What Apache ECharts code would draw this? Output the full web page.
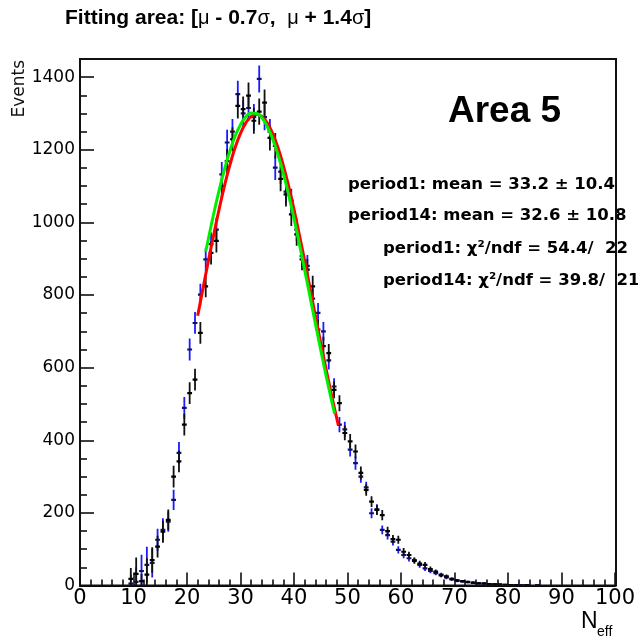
<!DOCTYPE html>
<html><head><meta charset="utf-8">
<script src="https://cdn.jsdelivr.net/npm/echarts@6/dist/echarts.min.js"></script>
<style>html,body{margin:0;padding:0;background:#fff}#c{width:638px;height:641px}</style>
</head><body><div id="c"></div>
<script>
// ---------------- DATA ----------------
const binCenters = [9.5,10.5,11.5,12.5,13.5,14.5,15.5,16.5,17.5,18.5,
 19.5,20.5,21.5,22.5,23.5,24.5,25.5,26.5,27.5,28.5,
 29.5,30.5,31.5,32.5,33.5,34.5,35.5,36.5,37.5,38.5,
 39.5,40.5,41.5,42.5,43.5,44.5,45.5,46.5,47.5,48.5,
 49.5,50.5,51.5,52.5,53.5,54.5,55.5,56.5,57.5,58.5,
 59.5,60.5,61.5,62.5,63.5,64.5,65.5,66.5,67.5,68.5,
 69.5,70.5,71.5,72.5,73.5,74.5,75.5,76.5,77.5,78.5,
 79.5,80.5,81.5,82.5,83.5,84.5,85.5];

const period1Counts = [18,32,12,30,70,107,148,181,300,342,
 443,530,567,696,824,916,949,1100,1169,1229,
 1321,1312,1349,1280,1305,1330,1233,1211,1120,1077,
 1022,967,898,870,824,705,659,640,539,502,
 420,397,369,310,263,231,208,194,150,128,
 126,93,84,68,60,57,45,38,28,25,
 18,14,12,9,8,6,5,4,3,3,
 2,1,1,0,1,0,0];
const period1Errors = [30,45,20,45,35,30,30,28,30,30,
 30,30,30,30,30,32,32,32,33,33,
 35,35,36,36,36,36,35,35,34,33,
 32,31,30,29,29,27,26,25,23,22,
 20,20,19,18,16,15,14,14,12,11,
 11,10,9,8,8,8,7,6,5,5,
 4,4,3,3,3,2,2,2,2,2,
 1,1,1,0,1,0,0];

const period14Counts = [5,10,40,57,62,126,153,176,236,365,
 489,650,723,801,898,940,980,1132,1220,1250,
 1353,1300,1315,1290,1395,1290,1250,1151,1140,1085,
 1060,980,907,880,790,751,700,620,548,443,
 430,374,337,300,270,199,210,153,139,121,
 98,84,75,70,57,47,40,34,30,22,
 17,13,11,10,7,6,6,4,3,2,
 2,1,1,1,1,0,1];
const period14Errors = [25,40,45,50,40,30,32,28,28,30,
 30,30,30,30,32,32,33,34,35,35,
 37,36,36,36,37,36,35,34,34,33,
 33,31,30,30,28,27,26,25,23,21,
 21,19,18,17,16,14,14,12,12,11,
 10,9,9,8,8,7,6,6,5,5,
 4,4,3,3,3,2,2,2,2,1,
 1,1,1,1,1,0,1];

// fit curves
const fit1X = [22,23,24,25,26,27,28,29,30,31,32,33,34,35,36,37,38,39,40,41,42,43,44,45,46,47,48,48.3];
const fit1Y = [743,819,894,966,1036,1100,1157,1206,1245,1274,1292,1298,1292,1274,1245,1206,1157,1100,1036,966,894,819,743,668,596,526,460,441];
const fit14X = [23.5,24,25,26,27,28,29,30,31,32,33,34,35,36,37,38,39,40,41,42,43,44,45,46,47,47.6];
const fit14Y = [920,955,1024,1088,1146,1196,1238,1269,1291,1301,1300,1288,1264,1230,1187,1135,1076,1011,941,869,795,722,649,578,511,473];

const titleParts = ['Fitting area: [', 'μ', ' - 0.7', 'σ', ',  ', 'μ', ' + 1.4', 'σ', ']'];
const statLines = ['period1: mean = 33.2 ± 10.4', 'period14: mean = 32.6 ± 10.8',
                   'period1: χ²/ndf = 54.4/  22', 'period14: χ²/ndf = 39.8/  21'];
const areaLabel = 'Area 5';
const yTitle = 'Events';
const xTitleMain = 'N', xTitleSub = 'eff';

// ---------------- LAYOUT ----------------
const G = {left: 80, top: 59, width: 536, height: 526.5};
const chart = echarts.init(document.getElementById('c'), null, {renderer: 'canvas'});

function pts(xs, ys) { return xs.map((x, i) => [x, ys[i]]); }
function hist(counts, errs) { return binCenters.map((x, i) => [x, counts[i], errs[i]]); }

function errRender(barColor, markColor) {
  return function (params, api) {
    const x = api.value(0), v = api.value(1), e = api.value(2);
    if (!(v > 0)) return;
    const c = api.coord([x, v]);
    const t = api.coord([x, v + e]);
    const b = api.coord([x, Math.max(0, v - e)]);
    const l = api.coord([x - 0.45, v]);
    const r = api.coord([x + 0.45, v]);
    return {type: 'group', children: [
      {type: 'line', shape: {x1: c[0], y1: t[1], x2: c[0], y2: b[1]}, style: {stroke: barColor, lineWidth: 1.8}},
      {type: 'line', shape: {x1: l[0], y1: c[1], x2: r[0], y2: c[1]}, style: {stroke: markColor, lineWidth: 2.2}}
    ]};
  };
}

const tickStyle = {color: '#000', width: 1.5};
const titleRich = {
  b: {font: 'bold 21px "Liberation Sans", sans-serif', fill: '#000'},
  s: {font: '20px "Liberation Sans", sans-serif', fill: '#000'}
};
const titleText = titleParts.map(p => (p === 'μ' || p === 'σ') ? '{s|' + p + '}' : '{b|' + p + '}').join('');
const statFont = 'bold 16.5px "DejaVu Sans", sans-serif';

const option = {
  animation: false,
  backgroundColor: '#fff',
  grid: {left: G.left, top: G.top, width: G.width, height: G.height, containLabel: false},
  xAxis: [{
    type: 'value', min: 0, max: 100, interval: 10,
    axisLine: {show: true, lineStyle: {color: '#000', width: 2}},
    axisTick: {show: true, inside: true, length: 13, lineStyle: tickStyle},
    minorTick: {show: true, splitNumber: 5, length: 6, lineStyle: tickStyle},
    splitLine: {show: false}, minorSplitLine: {show: false},
    axisLabel: {color: '#000', fontFamily: '"DejaVu Sans"', fontSize: 21, margin: 3}
  }],
  yAxis: [{
    type: 'value', min: 0, max: 1450, interval: 200,
    axisLine: {show: true, lineStyle: {color: '#000', width: 2}},
    axisTick: {show: true, inside: true, length: 14, lineStyle: tickStyle},
    splitLine: {show: false},
    axisLabel: {color: '#000', fontFamily: '"DejaVu Sans"', fontSize: 17, margin: 5,
      showMaxLabel: false, formatter: v => (v % 200 === 0 ? String(v) : '')}
  }, {
    type: 'value', min: 0, max: 1450, interval: 50, position: 'left',
    axisLine: {show: false},
    axisTick: {show: true, inside: true, length: 7, lineStyle: tickStyle},
    splitLine: {show: false}, axisLabel: {show: false}
  }],
  series: [
    {type: 'custom', name: 'period14', renderItem: errRender('#1a1aff', '#10106a'),
     data: hist(period14Counts, period14Errors), z: 2, clip: true},
    {type: 'custom', name: 'period1', renderItem: errRender('#111', '#000'),
     data: hist(period1Counts, period1Errors), z: 3, clip: true},
    {type: 'line', name: 'fit period1', data: pts(fit1X, fit1Y), smooth: true, showSymbol: false,
     lineStyle: {color: '#ff0000', width: 3}, z: 4},
    {type: 'line', name: 'fit period14', data: pts(fit14X, fit14Y), smooth: true, showSymbol: false,
     lineStyle: {color: '#00ee00', width: 3}, z: 5}
  ],
  graphic: [
    {type: 'text', x: 65, y: 18, style: {text: titleText, rich: titleRich, align: 'left', verticalAlign: 'middle'}},
    {type: 'text', x: 448, y: 112, style: {text: areaLabel, font: 'bold 37px "Liberation Sans", sans-serif', fill: '#000', align: 'left', verticalAlign: 'middle'}},
    {type: 'text', x: 348, y: 185, style: {text: statLines[0], font: statFont, fill: '#000', verticalAlign: 'middle'}},
    {type: 'text', x: 348, y: 216, style: {text: statLines[1], font: statFont, fill: '#000', verticalAlign: 'middle'}},
    {type: 'text', x: 383, y: 249, style: {text: statLines[2], font: statFont, fill: '#000', verticalAlign: 'middle'}},
    {type: 'text', x: 383, y: 281, style: {text: statLines[3], font: statFont, fill: '#000', verticalAlign: 'middle'}},
    {type: 'text', x: 20, y: 60, rotation: Math.PI / 2, style: {text: yTitle, font: '17px "DejaVu Sans", sans-serif', fill: '#111', align: 'right', verticalAlign: 'middle'}},
    {type: 'text', x: 581, y: 622, style: {text: xTitleMain, font: '23px "Liberation Sans", sans-serif', fill: '#000', align: 'left', verticalAlign: 'middle'}},
    {type: 'text', x: 597, y: 632, style: {text: xTitleSub, font: '14px "Liberation Sans", sans-serif', fill: '#000', align: 'left', verticalAlign: 'middle'}},
    {type: 'rect', z: 100, silent: true, shape: {x: G.left, y: G.top, width: G.width, height: G.height},
     style: {fill: 'none', stroke: '#111', lineWidth: 2}}
  ]
};
chart.setOption(option);
</script>
</body></html>
